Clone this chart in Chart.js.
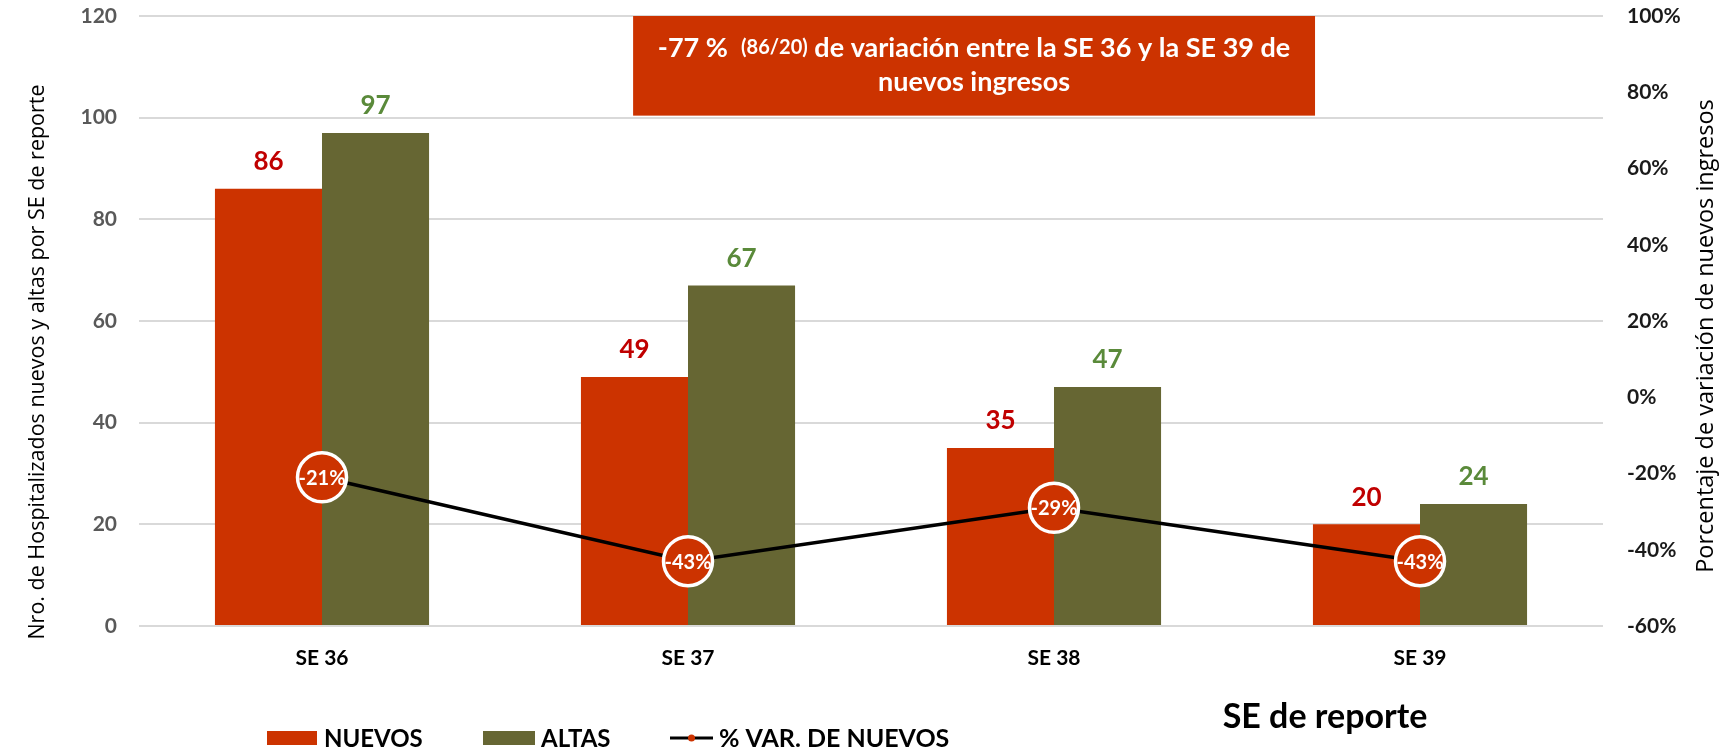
<!DOCTYPE html>
<html>
<head>
<meta charset="utf-8">
<script src="https://cdn.jsdelivr.net/npm/chart.js@4/dist/chart.umd.min.js"></script>
<style>
  html, body { margin: 0; padding: 0; background: #ffffff; }
  canvas { display: block; }
</style>
</head>
<body>
<canvas id="c" width="1721" height="752"></canvas>
<script>
// Semanas epidemiológicas de reporte
const semanas = ['SE 36', 'SE 37', 'SE 38', 'SE 39'];
// Hospitalizados nuevos por semana
const nuevos = [86, 49, 35, 20];
// Altas por semana
const altas = [97, 67, 47, 24];
// % de variación semanal de nuevos ingresos
const variacion = [-21, -43, -29, -43];

const leftTicks = [0, 20, 40, 60, 80, 100, 120];
const rightTicks = [-60, -40, -20, 0, 20, 40, 60, 80, 100];

const ROJO = '#CC3300';
const OLIVA = '#666633';
const SANS = 'Lato, "Open Sans", sans-serif';
const TITLE = '"Open Sans", Lato, sans-serif';

// Variación total entre la primera y la última semana
const varTotal = Math.round((nuevos[nuevos.length - 1] - nuevos[0]) / nuevos[0] * 100);

const decor = {
  id: 'decor',
  beforeDatasetsDraw(chart) {
    const { ctx, chartArea: a } = chart;
    const w = a.right - a.left;
    const yS = chart.scales.y;
    // recuadro de resumen
    const bx0 = a.left + w * 0.3375, bx1 = a.left + w * 0.8033;
    const by0 = yS.getPixelForValue(120), by1 = yS.getPixelForValue(100.4);
    ctx.save();
    ctx.fillStyle = ROJO;
    ctx.fillRect(bx0, by0, bx1 - bx0, by1 - by0);
    ctx.fillStyle = '#ffffff';
    ctx.textBaseline = 'middle';
    const parts = [
      [varTotal + ' %  ', 'bold 27px ' + SANS],
      ['(' + nuevos[0] + '/' + nuevos[nuevos.length - 1] + ')', 'bold 20px ' + SANS],
      [' de variación entre la ' + semanas[0] + ' y la ' + semanas[semanas.length - 1] + ' de', 'bold 27px ' + SANS]
    ];
    let total = 0;
    parts.forEach(p => { ctx.font = p[1]; total += ctx.measureText(p[0]).width; });
    let x = (bx0 + bx1) / 2 - total / 2;
    const l1 = by0 + (by1 - by0) * 0.32;
    ctx.textAlign = 'left';
    parts.forEach(p => { ctx.font = p[1]; ctx.fillText(p[0], x, l1); x += ctx.measureText(p[0]).width; });
    ctx.font = 'bold 27px ' + SANS;
    ctx.textAlign = 'center';
    ctx.fillText('nuevos ingresos', (bx0 + bx1) / 2, by0 + (by1 - by0) * 0.67);
    ctx.restore();
  },
  afterDraw(chart) {
    const { ctx } = chart;
    ctx.save();
    // etiquetas de valor sobre las barras
    ctx.textAlign = 'center';
    ctx.textBaseline = 'middle';
    ctx.font = 'bold 26px ' + SANS;
    [[0, '#C00000'], [1, '#5A8A3A']].forEach(([di, col]) => {
      const meta = chart.getDatasetMeta(di);
      ctx.fillStyle = col;
      meta.data.forEach((el, i) => {
        ctx.fillText(String(chart.data.datasets[di].data[i]), el.x, el.y - 27);
      });
    });
    // etiquetas dentro de los marcadores de la línea
    ctx.font = 'bold 20px ' + SANS;
    ctx.fillStyle = '#ffffff';
    chart.getDatasetMeta(2).data.forEach((el, i) => {
      ctx.fillText(variacion[i] + '%', el.x, el.y + 1);
    });
    // títulos de ejes
    ctx.fillStyle = '#000000';
    ctx.font = '21.5px ' + TITLE;
    ctx.save();
    ctx.translate(38, 362);
    ctx.rotate(-Math.PI / 2);
    ctx.fillText('Nro. de Hospitalizados nuevos y altas por SE de reporte', 0, 0);
    ctx.restore();
    ctx.font = '23.5px ' + TITLE;
    ctx.save();
    ctx.translate(1706, 336);
    ctx.rotate(-Math.PI / 2);
    ctx.fillText('Porcentaje de variación de nuevos ingresos', 0, 0);
    ctx.restore();
    ctx.font = 'bold 34px ' + SANS;
    ctx.fillText('SE de reporte', 1325, 717);
    // leyenda
    const ly = 738;
    ctx.font = 'bold 24px ' + SANS;
    ctx.textAlign = 'left';
    ctx.fillStyle = ROJO;
    ctx.fillRect(267, ly - 7, 50, 14);
    ctx.fillStyle = OLIVA;
    ctx.fillRect(483, ly - 7, 52, 14);
    ctx.strokeStyle = '#000000';
    ctx.lineWidth = 3;
    ctx.beginPath();
    ctx.moveTo(670, ly); ctx.lineTo(713, ly);
    ctx.stroke();
    ctx.fillStyle = ROJO;
    ctx.beginPath();
    ctx.arc(691.5, ly, 3.5, 0, Math.PI * 2);
    ctx.fill();
    ctx.fillStyle = '#000000';
    ctx.fillText('NUEVOS', 324, ly + 1);
    ctx.fillText('ALTAS', 541, ly + 1);
    ctx.font = 'bold 25px ' + SANS;
    ctx.fillText('% VAR. DE NUEVOS', 719, ly + 1);
    ctx.restore();
  }
};

new Chart(document.getElementById('c'), {
  data: {
    labels: semanas,
    datasets: [
      { type: 'bar', label: 'NUEVOS', data: nuevos, backgroundColor: ROJO, yAxisID: 'y', order: 2,
        categoryPercentage: 0.585, barPercentage: 1.0 },
      { type: 'bar', label: 'ALTAS', data: altas, backgroundColor: OLIVA, yAxisID: 'y', order: 2,
        categoryPercentage: 0.585, barPercentage: 1.0 },
      { type: 'line', label: '% VAR. DE NUEVOS', data: variacion.map(v => v / 100), yAxisID: 'y1', order: 0,
        borderColor: '#000000', borderWidth: 3.5, tension: 0,
        pointRadius: 24.5, pointHoverRadius: 24.5, pointBackgroundColor: ROJO,
        pointBorderColor: '#ffffff', pointBorderWidth: 3.5 }
    ]
  },
  options: {
    responsive: false,
    animation: false,
    devicePixelRatio: 1,
    layout: { autoPadding: false, padding: { top: 16, left: 0, right: 0, bottom: 0 } },
    plugins: { legend: { display: false }, tooltip: { enabled: false } },
    scales: {
      x: {
        grid: { display: false, drawTicks: false },
        border: { display: false },
        ticks: { color: '#000000', padding: 20, font: { family: SANS, size: 21, weight: 'bold' } },
        afterFit(s) { s.height = 126; s.paddingLeft = 0; s.paddingRight = 0; }
      },
      y: {
        position: 'left',
        min: 0, max: 120,
        afterBuildTicks(s) { s.ticks = leftTicks.map(v => ({ value: v })); },
        grid: { color: '#d9d9d9', lineWidth: 2, drawTicks: false },
        border: { display: false },
        ticks: { color: '#595959', padding: 22, font: { family: SANS, size: 21, weight: 'bold' } },
        afterFit(s) { s.width = 139; s.paddingTop = 0; s.paddingBottom = 0; }
      },
      y1: {
        position: 'right',
        min: -0.6, max: 1.0,
        afterBuildTicks(s) { s.ticks = rightTicks.map(v => ({ value: v / 100 })); },
        grid: { drawOnChartArea: false, drawTicks: false },
        border: { display: false },
        ticks: { color: '#1a1a1a', padding: 24, font: { family: SANS, size: 21, weight: 'bold' },
          callback: v => Math.round(v * 100) + '%' },
        afterFit(s) { s.width = 118; s.paddingTop = 0; s.paddingBottom = 0; }
      }
    }
  },
  plugins: [decor]
});
</script>
</body>
</html>
